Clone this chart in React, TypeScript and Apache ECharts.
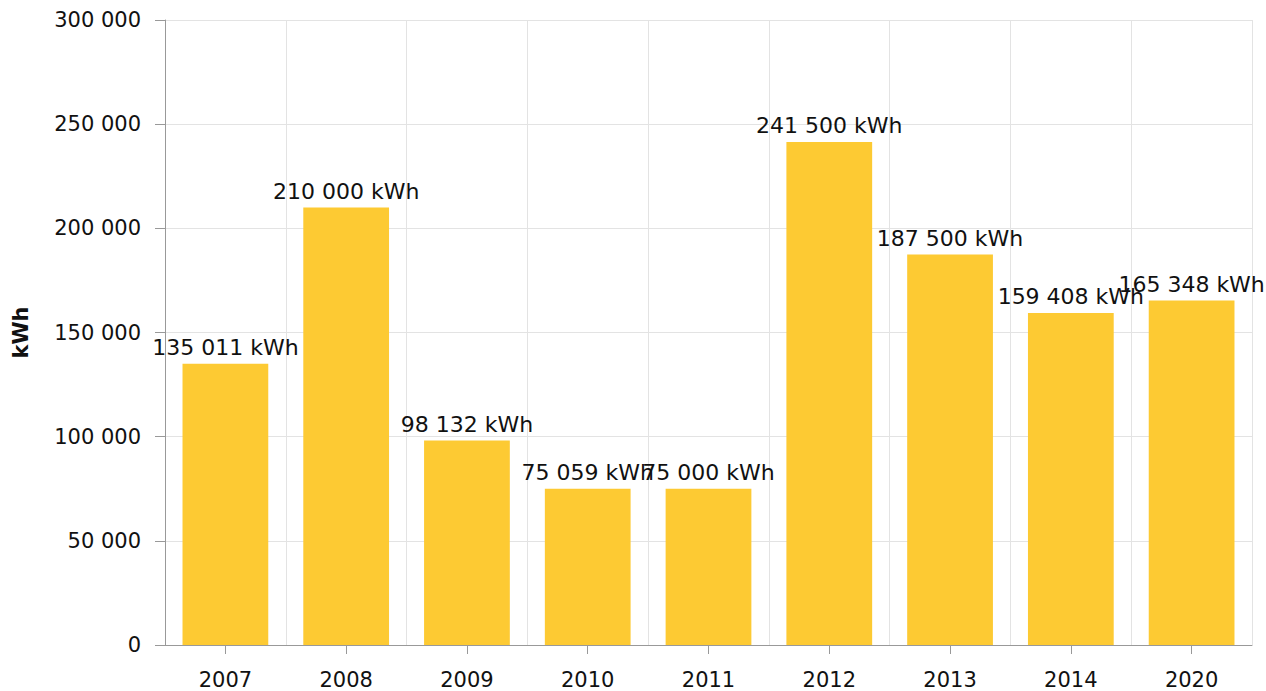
import React, { useEffect, useRef } from "react";
import * as echarts from "echarts";

const categories = ["2007", "2008", "2009", "2010", "2011", "2012", "2013", "2014", "2020"];
const values = [135011, 210000, 98132, 75059, 75000, 241500, 187500, 159408, 165348];
const unit = "kWh";

const fmt = (v: number) => String(Math.round(v)).replace(/\B(?=(\d{3})+(?!\d))/g, " ");

export default function App() {
  const ref = useRef<HTMLDivElement>(null);
  useEffect(() => {
    const chart = echarts.init(ref.current!, null, { renderer: "svg" });
    const font = "'DejaVu Sans', Verdana, sans-serif";
    chart.setOption({
      animation: false,
      textStyle: { fontFamily: font },
      grid: { left: 165, right: 14, top: 20, bottom: 46 },
      xAxis: {
        type: "category",
        data: categories,
        axisLine: { show: true, lineStyle: { color: "#999", width: 1 } },
        axisTick: { show: true, alignWithLabel: true, length: 9, lineStyle: { color: "#999" } },
        axisLabel: { color: "#111", fontSize: 21, margin: 24, fontFamily: font },
        splitLine: { show: true, lineStyle: { color: "#e3e3e3", width: 1 } },
      },
      yAxis: {
        type: "value",
        min: 0,
        max: 300000,
        interval: 50000,
        name: unit,
        nameLocation: "middle",
        nameGap: 134,
        nameTextStyle: { color: "#111", fontSize: 21, fontWeight: "bold", fontFamily: font },
        axisLine: { show: true, lineStyle: { color: "#999", width: 1 } },
        axisTick: { show: true, length: 10, lineStyle: { color: "#999" } },
        axisLabel: { color: "#111", fontSize: 21, margin: 24, fontFamily: font, formatter: (v: number) => fmt(v) },
        splitLine: { show: true, lineStyle: { color: "#e3e3e3", width: 1 } },
      },
      series: [
        {
          type: "bar",
          data: values,
          barCategoryGap: "29%",
          itemStyle: { color: "#fdca33" },
          label: {
            show: true,
            position: "top",
            distance: 5,
            color: "#111",
            fontSize: 22,
            fontFamily: font,
            formatter: (p: any) => fmt(p.value) + " " + unit,
          },
        },
      ],
    });
    return () => chart.dispose();
  }, []);
  return <div ref={ref} style={{ width: 1266, height: 691, position: "absolute", left: 0, top: 0 }} />;
}
